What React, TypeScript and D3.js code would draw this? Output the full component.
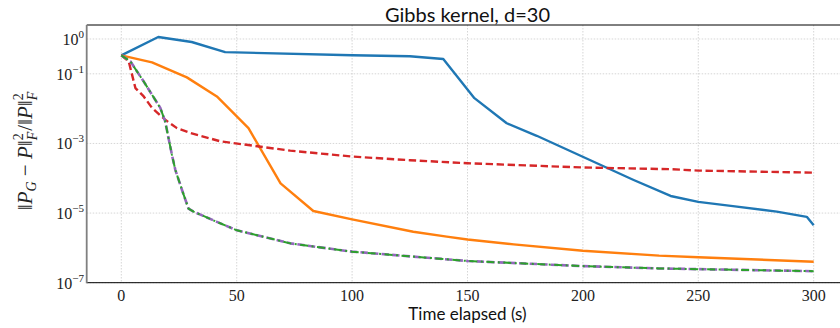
import React, { useRef, useEffect } from 'react'
import * as d3 from 'd3'

// time (s) and relative error for each method
const blueT = [0, 16, 30.5, 45, 100, 125, 139.5, 153, 167, 180, 222, 238, 250, 265, 284, 297, 300]
const blueV = [0.34, 1.14, 0.82, 0.42, 0.34, 0.32, 0.266, 0.02, 3.8e-3, 1.66e-3, 8.9e-5, 3.1e-5, 2.1e-5, 1.58e-5, 1.1e-5, 7.8e-6, 4.5e-6]

const orangeT = [0, 13.3, 28.4, 41.4, 55.1, 69, 83.2, 100, 126.5, 141, 150, 170, 200, 233, 250, 300]
const orangeV = [0.34, 0.214, 0.079, 0.0224, 2.75e-3, 7.1e-5, 1.15e-5, 6.6e-6, 2.9e-6, 2.1e-6, 1.74e-6, 1.26e-6, 8.3e-7, 6.0e-7, 5.4e-7, 4.0e-7]

const redT = [0, 3.2, 6.1, 9.7, 13.3, 19, 24.1, 29.9, 42.9, 73.2, 100, 125, 150, 200, 238, 250, 300]
const redV = [0.34, 0.229, 0.039, 0.0224, 0.0105, 4.8e-3, 2.75e-3, 2.0e-3, 1.15e-3, 6.2e-4, 4.2e-4, 3.3e-4, 2.7e-4, 2.04e-4, 1.82e-4, 1.66e-4, 1.45e-4]

const purpleT = [0, 3.9, 9.7, 16.9, 19, 21.9, 23.4, 26.3, 29.1, 31.3, 41.4, 50.1, 73.2, 100, 150, 200, 233, 250, 300]
const purpleV = [0.34, 0.229, 0.06, 0.0105, 4.3e-3, 4.8e-4, 1.74e-4, 4.6e-5, 1.35e-5, 1.1e-5, 5.6e-6, 3.2e-6, 1.35e-6, 7.8e-7, 4.2e-7, 3.0e-7, 2.57e-7, 2.45e-7, 2.14e-7]

const greenT = [0, 3.9, 9.7, 16.9, 19, 21.9, 23.4, 26.3, 29.1, 31.3, 41.4, 50.1, 73.2, 100, 150, 200, 233, 250, 300]
const greenV = [0.34, 0.229, 0.06, 0.0105, 4.3e-3, 4.8e-4, 1.74e-4, 4.6e-5, 1.35e-5, 1.1e-5, 5.6e-6, 3.2e-6, 1.35e-6, 7.8e-7, 4.2e-7, 3.0e-7, 2.57e-7, 2.45e-7, 2.14e-7]

const xTicks = [0, 50, 100, 150, 200, 250, 300]
const yTicks = [1, 1e-1, 1e-3, 1e-5, 1e-7]
const yTickExp = ['0', '\u22121', '\u22123', '\u22125', '\u22127']

const series = [
  { t: blueT, v: blueV, color: '#1f77b4', dash: null, w: 2.4 },
  { t: orangeT, v: orangeV, color: '#ff7f0e', dash: null, w: 2.4 },
  { t: redT, v: redV, color: '#d62728', dash: '7.4,3.6', w: 2.4 },
  { t: purpleT, v: purpleV, color: '#9467bd', dash: '7.4,3.2', w: 2.6 },
  { t: greenT, v: greenV, color: '#2ca02c', dash: '8,3.5,2,3.5', w: 2.0 },
]

function App() {
  const ref = useRef(null)

  useEffect(() => {
    const width = 840
    const height = 328
    const left = 86.7
    const right = 848.3
    const top = 25
    const bottom = 282.7

    const root = d3.select(ref.current)
    root.html('')
    const svg = root.append('svg')
      .attr('width', width)
      .attr('height', height)
      .style('position', 'absolute')
      .style('left', '0px')
      .style('top', '0px')
      .style('background', 'white')

    const x = d3.scaleLinear().domain([-15, 315]).range([left, right])
    const y = d3.scaleLog().domain([1e-7, Math.pow(10, 0.402)]).range([bottom, top])

    // grid
    const grid = svg.append('g')
    xTicks.forEach(t => {
      grid.append('line')
        .attr('x1', x(t)).attr('x2', x(t))
        .attr('y1', top).attr('y2', bottom)
        .attr('stroke', '#cccccc').attr('stroke-width', 0.8)
        .attr('stroke-dasharray', '1.5,1.5')
    })
    yTicks.forEach(v => {
      grid.append('line')
        .attr('x1', left).attr('x2', right)
        .attr('y1', y(v)).attr('y2', y(v))
        .attr('stroke', '#cccccc').attr('stroke-width', 0.8)
        .attr('stroke-dasharray', '1.5,1.5')
    })

    // lines
    const line = d3.line()
      .x(d => x(d[0]))
      .y(d => y(d[1]))
    series.forEach(s => {
      const pts = s.t.map((t, i) => [t, s.v[i]])
      const path = svg.append('path')
        .attr('d', line(pts))
        .attr('fill', 'none')
        .attr('stroke', s.color)
        .attr('stroke-width', s.w)
        .attr('stroke-linejoin', 'round')
      if (s.dash) path.attr('stroke-dasharray', s.dash)
    })

    // spines
    svg.append('line')
      .attr('x1', left).attr('x2', right).attr('y1', top).attr('y2', top)
      .attr('stroke', '#000').attr('stroke-width', 1)
    svg.append('line')
      .attr('x1', left).attr('x2', right).attr('y1', bottom).attr('y2', bottom)
      .attr('stroke', '#000').attr('stroke-width', 1)
    svg.append('line')
      .attr('x1', left).attr('x2', left).attr('y1', top).attr('y2', bottom + 0.5)
      .attr('stroke', '#808080').attr('stroke-width', 1.8)

    // x tick labels
    xTicks.forEach(t => {
      svg.append('text')
        .attr('x', x(t)).attr('y', 300.5)
        .attr('text-anchor', 'middle')
        .attr('font-family', 'Liberation Serif')
        .attr('font-size', 16)
        .attr('fill', '#222')
        .text(t)
    })

    // y tick labels
    yTicks.forEach((v, i) => {
      const txt = svg.append('text')
        .attr('x', 84).attr('y', y(v) + 6)
        .attr('text-anchor', 'end')
        .attr('font-family', 'Liberation Serif')
        .attr('font-size', 16)
        .attr('fill', '#222')
      txt.append('tspan').text('10')
      txt.append('tspan').attr('dy', -7).attr('font-size', 11).text(yTickExp[i])
    })

    // title and x label
    svg.append('text')
      .attr('x', (left + right) / 2).attr('y', 21.5)
      .attr('text-anchor', 'middle')
      .attr('font-family', 'Lato')
      .attr('font-size', 20)
      .attr('fill', '#111')
      .text('Gibbs kernel, d=30')
    svg.append('text')
      .attr('x', (left + right) / 2).attr('y', 320)
      .attr('text-anchor', 'middle')
      .attr('font-family', 'Lato')
      .attr('font-size', 17)
      .attr('fill', '#111')
      .text('Time elapsed (s)')

    // y label
    const yl = svg.append('text')
      .attr('transform', 'translate(32,151) rotate(-90)')
      .attr('text-anchor', 'middle')
      .attr('font-family', 'Liberation Serif')
      .attr('font-size', 21)
      .attr('fill', '#222')
    const parts = [
      ['\u2016', {}],
      ['P', { italic: true }],
      ['G', { italic: true, size: 14, dy: 4 }],
      [' \u2212 ', { dy: -4 }],
      ['P', { italic: true }],
      ['\u2016', {}],
      ['2', { size: 14, dy: -9 }],
      ['F', { italic: true, size: 14, dx: -7, dy: 14 }],
      ['/\u2016', { dy: -5, dx: 1 }],
      ['P', { italic: true }],
      ['\u2016', {}],
      ['2', { size: 14, dy: -9 }],
      ['F', { italic: true, size: 14, dx: -7, dy: 14 }],
    ]
    parts.forEach(([s, o]) => {
      const ts = yl.append('tspan').text(s)
      if (o.italic) ts.attr('font-style', 'italic')
      if (o.size) ts.attr('font-size', o.size)
      if (o.dy) ts.attr('dy', o.dy)
      if (o.dx) ts.attr('dx', o.dx)
    })

    return () => {
      svg.remove()
    }
  }, [])

  return (
    <div ref={ref} style={{ width: '840px', height: '328px' }}></div>
  )
}

export default App
